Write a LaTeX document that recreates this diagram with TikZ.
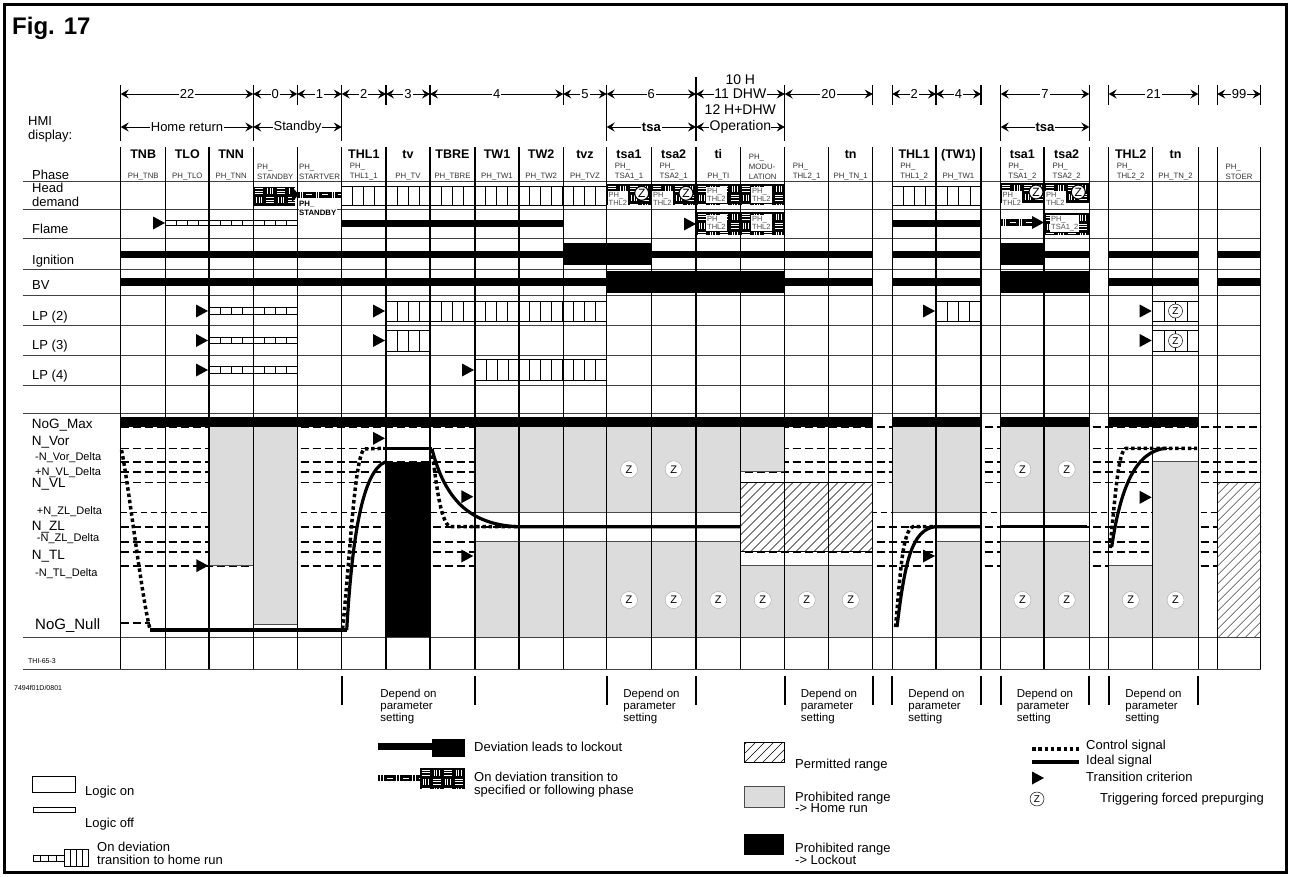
\documentclass[tikz,border=0pt]{standalone}
\usepackage{fontspec}
\setmainfont{Liberation Sans}
\usetikzlibrary{arrows.meta}
\definecolor{grayfill}{HTML}{DCDCDC}
\definecolor{lblgray}{HTML}{505050}
\newcommand\fs[1]{\fontsize{#1}{#1}\selectfont}
\newcommand\weave[4]{%
  \fill[black] (#1,#2) rectangle (#3,#4);
  \begin{scope}
    \clip (#1,#2) rectangle (#3,#4);
    \pgfmathtruncatemacro\wnx{ceil((#3-#1)/11)}
    \pgfmathtruncatemacro\wny{ceil((#4-#2)/9)}
    \foreach \wi in {1,...,\wnx}{
      \foreach \wj in {1,...,\wny}{
        \pgfmathsetmacro\wx{#1+(\wi-1)*11}
        \pgfmathsetmacro\wy{#2+(\wj-1)*9}
        \pgfmathtruncatemacro\wp{mod(\wi+\wj,2)}
        \ifnum\wp=0
          \draw[white,line width=0.6pt] (\wx+1.5,\wy+2) -- ++(8,0) (\wx+1.5,\wy+4.5) -- ++(8,0) (\wx+1.5,\wy+7) -- ++(8,0);
        \else
          \draw[white,line width=0.6pt] (\wx+3,\wy+1.5) -- ++(0,6) (\wx+5.5,\wy+1.5) -- ++(0,6) (\wx+8,\wy+1.5) -- ++(0,6);
        \fi
      }}
  \end{scope}}
\newcommand\thinweave[4]{%
  \fill[black] (#1,#2) rectangle (#3,#4);
  \begin{scope}
    \clip (#1,#2) rectangle (#3,#4);
    \pgfmathtruncatemacro\wnx{ceil((#3-#1)/8)}
    \foreach \wi in {1,...,\wnx}{
      \pgfmathsetmacro\wx{#1+(\wi-1)*8}
      \pgfmathtruncatemacro\wp{mod(\wi,2)}
      \ifnum\wp=0
        \draw[white,line width=0.6pt] (\wx+1,{(#2+#4)/2}) -- ++(6,0);
      \else
        \draw[white,line width=0.6pt] (\wx+2.5,#2) -- (\wx+2.5,#4) (\wx+5,#2) -- (\wx+5,#4);
      \fi}
  \end{scope}}
\newcommand\stripes[5]{%
  \draw[line width=0.8pt] (#1,#3) rectangle (#2,#4);
  \pgfmathtruncatemacro\sn{#5-1}
  \foreach \si in {1,...,\sn}{\draw[line width=0.8pt] ({#1+(#2-#1)*\si/#5},#3) -- ({#1+(#2-#1)*\si/#5},#4);}}
\newcommand\hatch[4]{%
  \begin{scope}
    \clip (#1,#2) rectangle (#3,#4);
    \foreach \hk in {0,...,40}{\draw[line width=0.5pt] ({#1-170+\hk*9},#4) -- ++(180,-180);}
  \end{scope}
  \draw[line width=0.6pt] (#1,#2) rectangle (#3,#4);}
\newcommand\tri[2]{\fill (#1,#2) -- ++(-12,-6.5) -- ++(0,13) -- cycle;}
\newcommand\zc[2]{\node[circle,fill=white,draw=gray!70,line width=0.4pt,minimum size=17pt,inner sep=0pt,font=\fs{11}] at (#1,#2) {Z};}
\newcommand\zh[2]{\node[circle,fill=white,draw=black,line width=1.1pt,minimum size=14pt,inner sep=0pt,font=\fs{12}] at (#1,#2) {Z};}
\newcommand\zl[2]{\node[circle,fill=white,draw=black,line width=0.5pt,minimum size=14pt,inner sep=0pt,font=\fs{10}] at (#1,#2) {Z};}
\newcommand\wlabel[3]{\node[fill=white,inner sep=1pt,anchor=north west,align=left,font=\fontsize{7.5}{8.5}\selectfont,text=lblgray] at (#1,#2) {#3};}
\newcommand\phs[2]{\node[anchor=south,align=left,inner sep=0pt,font=\fontsize{7.8}{10}\selectfont,text=black!80] at (#1,180) {#2};}
\newcommand\phb[2]{\node[anchor=base,inner sep=0pt,font=\bfseries\fs{12.5}] at (#1,158) {#2};}
\begin{document}
\begin{tikzpicture}[x=1pt,y=-1pt,
  dimarr/.style={{Stealth[length=8pt,width=9pt,inset=3pt]}-{Stealth[length=8pt,width=9pt,inset=3pt]},line width=0.8pt},
  dimlbl/.style={fill=white,inner sep=1pt,font=\fs{13}},
  dsh/.style={line width=1.6pt,dash pattern=on 8pt off 4pt},
  dshthin/.style={line width=0.8pt,dash pattern=on 6pt off 4pt},
  ctrl/.style={line width=3.5pt,dash pattern=on 3.5pt off 2.8pt},
  ideal/.style={line width=3.2pt},
  gblock/.style={fill=grayfill,draw=black!70,line width=0.5pt},
  lbl/.style={anchor=base west,inner sep=0pt,font=\fs{13}},
  lbls/.style={anchor=base west,inner sep=0pt,font=\fs{11}}]
\useasboundingbox (0,0) rectangle (1290,876);
\fill[white] (0,0) rectangle (1290,876);
\draw[line width=3pt] (4,4) rectangle (1286.5,872.5);
\node[anchor=base west,inner sep=0pt,font=\bfseries\fs{24}] (fig) at (12,34) {Fig. 17};

% ---------- dimension header ----------
\node[lbl] (hmi1) at (28,125) {HMI};
\node[lbl] (hmi2) at (28,139) {display:};
\foreach \x in {120.7,253.3,341.7,606.7,784.7,1000.7,1089.3} {\draw[line width=1.2pt] (\x,85) -- (\x,141);}
\draw[line width=1.2pt] (696,77) -- (696,141);
\foreach \x in {297.3,386,430,563.3,872.7,892.3,936,981,1108.7,1198.3,1217.3,1260.7} {\draw[line width=1.2pt] (\x,85) -- (\x,105);}
\draw[dimarr] (120.7,94) -- node[dimlbl]{22} (253.3,94);
\draw[dimarr] (253.3,94) -- node[dimlbl]{0} (297.3,94);
\draw[dimarr] (297.3,94) -- node[dimlbl]{1} (341.7,94);
\draw[dimarr] (341.7,94) -- node[dimlbl]{2} (386,94);
\draw[dimarr] (386,94) -- node[dimlbl]{3} (430,94);
\draw[dimarr] (430,94) -- node[dimlbl]{4} (563.3,94);
\draw[dimarr] (563.3,94) -- node[dimlbl]{5} (606.7,94);
\draw[dimarr] (606.7,94) -- node[dimlbl]{6} (696,94);
\draw[dimarr] (696,94) -- node[dimlbl,inner sep=0.3pt,font=\fs{14}]{11 DHW} (784.7,94);
\draw[dimarr] (784.7,94) -- node[dimlbl]{20} (872.7,94);
\draw[dimarr] (892.3,94) -- node[dimlbl]{2} (936,94);
\draw[dimarr] (936,94) -- node[dimlbl]{4} (981,94);
\draw[dimarr] (1000.7,94) -- node[dimlbl]{7} (1089.3,94);
\draw[dimarr] (1108.7,94) -- node[dimlbl]{21} (1198.3,94);
\draw[dimarr] (1217.3,94) -- node[dimlbl]{99} (1260.7,94);
\node[font=\fs{14},inner sep=0pt] (h10) at (740.3,80) {10 H};
\node[font=\fs{14},inner sep=0pt,fill=white] (h12) at (740.3,109.5) {12 H+DHW};
\draw[dimarr] (120.7,127) -- node[dimlbl,inner sep=0.5pt]{Home return} (253.3,127);
\draw[dimarr] (253.3,127) -- node[dimlbl,inner sep=0.5pt]{Standby} (341.7,127);
\draw[dimarr] (606.7,127) -- node[dimlbl,font=\bfseries\fs{13}]{tsa} (696,127);
\draw[dimarr] (696,127) -- node[dimlbl,inner sep=0.3pt,font=\fs{14}]{Operation} (784.7,127);
\draw[dimarr] (1000.7,127) -- node[dimlbl,font=\bfseries\fs{13}]{tsa} (1089.3,127);

% ---------- chart dashed levels ----------
\foreach \y in {426.7,448.3,461.7,471.7,482.3,526.7,541.7,551.7,565.7} {\draw[dsh] (120.7,\y) -- (1260.7,\y);}
\draw[dshthin] (120.7,512.7) -- (1260.7,512.7);
\draw[dsh] (120.7,623) -- (150,623);

% ---------- chart fills ----------
\draw[gblock] (209,426.7) rectangle (253.3,565.7);
\draw[gblock] (253.3,426.7) rectangle (297.3,624);
\draw[gblock] (475,426.7) rectangle (740.7,512.7);
\draw[gblock] (740.7,426.7) rectangle (784.7,471.7);
\draw[gblock] (475,541.7) rectangle (740.7,637.3);
\draw[gblock] (740.7,565.7) rectangle (872.7,637.3);
\draw[gblock] (892.3,426.7) rectangle (981,512.7);
\draw[gblock] (936,541.7) rectangle (981,637.3);
\draw[gblock] (1000.7,426.7) rectangle (1089.3,512.7);
\draw[gblock] (1000.7,541.7) rectangle (1089.3,637.3);
\draw[gblock] (1108.7,565.7) rectangle (1152.7,637.3);
\draw[gblock] (1152.7,461.7) rectangle (1198.3,637.3);
\fill[white] (740.7,482.3) rectangle (872.7,551.7);
\hatch{740.7}{482.3}{872.7}{551.7}
\fill[white] (1217.3,482.3) rectangle (1260.7,637.3);
\hatch{1217.3}{482.3}{1260.7}{637.3}
\fill[black] (386,461.7) rectangle (430,637.3);

% ---------- grid ----------
\foreach \y in {181,209.5,238,269,295.5,325.5,355,385,413,637.3,669.3} {\draw[line width=0.9pt,black!75] (22.7,\y) -- (1260.7,\y);}
\foreach \x in {120.7,165.7,209,253.3,297.3,341.7,386,430,475,519,563.3,606.7,651.3,696,740.7,784.7,828.7,872.7,892.3,936,981,1000.7,1044,1089.3,1108.7,1152.7,1198.3,1217.3,1260.7}
  {\draw[line width=1.2pt] (\x,147) -- (\x,669.3);}

% NoG_Max bar
\foreach \a/\b in {120.7/872.7,892.3/981,1000.7/1089.3,1108.7/1198.3} {\fill (\a,416.7) rectangle (\b,426.7);}

% ---------- phase labels ----------
\phb{143.2}{TNB}\phb{187.35}{TLO}\phb{231.15}{TNN}\phb{363.85}{THL1}\phb{408}{tv}\phb{452.5}{TBRE}
\phb{497}{TW1}\phb{541.15}{TW2}\phb{585}{tvz}\phb{629}{tsa1}\phb{673.65}{tsa2}\phb{718.35}{ti}\phb{850.7}{tn}
\phb{914.15}{THL1}\phb{958.5}{(TW1)}\phb{1022.35}{tsa1}\phb{1066.65}{tsa2}\phb{1130.7}{THL2}\phb{1175.5}{tn}
\phs{143.2}{PH\_TNB}\phs{187.35}{PH\_TLO}\phs{231.15}{PH\_TNN}\phs{275.3}{PH\_\\STANDBY}\phs{319.5}{PH\_\\STARTVER}
\phs{363.85}{PH\_\\THL1\_1}\phs{408}{PH\_TV}\phs{452.5}{PH\_TBRE}\phs{497}{PH\_TW1}\phs{541.15}{PH\_TW2}\phs{585}{PH\_TVZ}
\phs{629}{PH\_\\TSA1\_1}\phs{673.65}{PH\_\\TSA2\_1}\phs{718.35}{PH\_TI}\phs{762.7}{PH\_\\MODU-\\LATION}\phs{806.7}{PH\_\\THL2\_1}
\phs{850.7}{PH\_TN\_1}\phs{914.15}{PH\_\\THL1\_2}\phs{958.5}{PH\_TW1}\phs{1022.35}{PH\_\\TSA1\_2}\phs{1066.65}{PH\_\\TSA2\_2}
\phs{1130.7}{PH\_\\THL2\_2}\phs{1175.5}{PH\_TN\_2}\phs{1239}{PH\_\\STOER}

% ---------- row labels ----------
\node[lbl] (l1) at (32,179) {Phase};
\node[lbl] (l2) at (32,192.7) {Head};
\node[lbl] (l3) at (32,206.5) {demand};
\node[lbl] (l4) at (32,233) {Flame};
\node[lbl] (l5) at (32,264) {Ignition};
\node[lbl] (l6) at (32,289.5) {BV};
\node[lbl] (l7) at (32,320) {LP (2)};
\node[lbl] (l8) at (32,349.5) {LP (3)};
\node[lbl] (l9) at (32,379) {LP (4)};

% ---------- head demand ----------
\weave{253.3}{186.7}{295}{206}
\fill (292,187) -- (299,194.5) -- (292,202) -- cycle;
\thinweave{297.3}{191.5}{341.7}{197.5}
\node[fill=white,inner sep=0.5pt,anchor=north west,align=left,font=\bfseries\fontsize{7.8}{8.5}\selectfont] (psb) at (298.5,200.5) {PH\_\\STANDBY};
\stripes{341.7}{606.7}{186}{205}{24}
\weave{606.7}{184}{651.3}{205}\wlabel{607.5}{191}{PH\_\\THL2}\zh{641.7}{193.3}
\weave{651.3}{184}{696}{205}\wlabel{652}{191}{PH\_\\THL2}\zh{686}{193.3}
\weave{696}{184}{740.7}{205}\wlabel{706}{187}{PH\_\\THL2}
\weave{740.7}{184}{784.7}{205}\wlabel{751}{187}{PH\_\\THL2}
\stripes{892.3}{981}{186}{205}{8}
\weave{1000.7}{183}{1044}{203}\wlabel{1001.5}{191}{PH\_\\THL2}\zh{1036}{192}
\weave{1044}{183}{1089.3}{203}\wlabel{1045}{191}{PH\_\\THL2}\zh{1078.3}{192}

% ---------- flame ----------
\tri{165}{223}
\stripes{165.7}{297.3}{220}{225.3}{12}
\fill (341.7,220) rectangle (563.3,227.3);
\weave{696}{212}{784.7}{235}\wlabel{706}{215}{PH\_\\THL2}\wlabel{751}{215}{PH\_\\THL2}
\tri{696}{224}
\fill (892.3,220) rectangle (981,227.3);
\thinweave{1000.7}{219}{1033}{226}\tri{1044}{222.5}
\weave{1044}{213}{1089.3}{235}\wlabel{1050}{215}{PH\_\\TSA1\_2}

% ---------- ignition ----------
\foreach \a/\b in {120.7/872.7,892.3/981,1000.7/1089.3,1108.7/1198.3,1217.3/1260.7} {\fill (\a,251) rectangle (\b,257.7);}
\fill (563.3,243.3) rectangle (651.3,265);
\fill (1000.7,243.3) rectangle (1044,265);

% ---------- BV ----------
\foreach \a/\b in {120.7/872.7,892.3/981,1108.7/1198.3,1217.3/1260.7} {\fill (\a,278.3) rectangle (\b,285.7);}
\fill (606.7,271) rectangle (784.7,292.7);
\fill (1000.7,271) rectangle (1089.3,292.7);

% ---------- LP rows ----------
\tri{208}{311}\stripes{209}{297.3}{307.7}{314}{8}
\tri{208}{340.5}\stripes{209}{297.3}{337.2}{343.5}{8}
\tri{208}{370}\stripes{209}{297.3}{366.7}{373}{8}
\tri{385}{311}\stripes{386}{606.7}{301}{321.7}{20}
\tri{385}{340.5}\stripes{386}{430}{330.5}{351}{4}
\tri{474}{370}\stripes{475}{606.7}{359.5}{380}{12}
\tri{935}{311}\stripes{936}{981}{301}{321.7}{4}
\tri{1151.7}{311}\stripes{1152.7}{1198.3}{301}{321.7}{4}\zl{1175.5}{311}
\tri{1151.7}{340.5}\stripes{1152.7}{1198.3}{330.5}{351}{4}\zl{1175.5}{340.7}

% ---------- chart curves ----------
\draw[ctrl] (121.5,450) .. controls (128,480) and (142,600) .. (150,629);
\draw[ideal] (150,630) -- (346.7,630);
\draw[ctrl] (342.5,629) .. controls (350,560) and (354,460) .. (364,449) -- (384,448.3);
\draw[ideal] (346.7,630) .. controls (352,540) and (362,470) .. (386,461.7);
\draw[ideal] (383,448.3) -- (432,448.3);
\draw[ctrl] (431.7,449) .. controls (436,480) and (440,522) .. (450,526.7) -- (516.7,526.7);
\draw[ideal] (432,449) .. controls (445,500) and (470,524) .. (516.7,526.7) -- (740.7,526.7);
\draw[ctrl] (895.5,627) .. controls (900,580) and (902,530) .. (913,526.7) -- (935,526.7);
\draw[ideal] (897,627) .. controls (905,560) and (912,530) .. (935,526.7) -- (981,526.7);
\draw[ideal] (1000.7,526.7) -- (1087,526.7);
\draw[ctrl] (1110,548) .. controls (1115,500) and (1118,450) .. (1126,448.3) -- (1197,448.3);
\draw[ideal] (1111.7,547) .. controls (1120,490) and (1135,450) .. (1166.7,448.3);
\tri{208.3}{565.7}\tri{385}{438.3}\tri{473.3}{496.7}\tri{473.3}{556}\tri{935}{556}\tri{1151.7}{497.3}
\zc{629}{469.3}\zc{673.65}{469.3}\zc{1022.35}{469.3}\zc{1066.65}{469.3}
\foreach \x in {629,673.65,718.35,762.7,806.7,850.7,1022.35,1066.65,1130.7,1175.5} {\zc{\x}{600}}

% ---------- chart labels ----------
\node[lbl,font=\fs{13.5}] (n1) at (31.7,428) {NoG\_Max};
\node[lbl,font=\fs{13.5}] (n2) at (31.7,445) {N\_Vor};
\node[lbls] (n3) at (35,460) {-N\_Vor\_Delta};
\node[lbls] (n4) at (35,475) {+N\_VL\_Delta};
\node[lbl,font=\fs{13.5}] (n5) at (31.7,487) {N\_VL};
\node[lbls] (n6) at (36.7,514) {+N\_ZL\_Delta};
\node[lbl,font=\fs{13.5}] (n7) at (31.7,530) {N\_ZL};
\node[lbls] (n8) at (36.7,541) {-N\_ZL\_Delta};
\node[lbl,font=\fs{13.5}] (n9) at (31.7,559) {N\_TL};
\node[lbls] (n10) at (35,576) {-N\_TL\_Delta};
\node[lbl,font=\fs{15}] (n11) at (35,629) {NoG\_Null};
\node[anchor=base west,inner sep=0pt,font=\fs{7}] (thi) at (28,663) {THI-65-3};
\node[anchor=base west,inner sep=0pt,font=\fs{7}] (code) at (14,690) {7494f01D/0801};

% ---------- depend on parameter setting ----------
\foreach \x in {342,475,607,696,785,873,892,981,1001,1089,1109,1198} {\draw[line width=1.2pt] (\x,676) -- (\x,705);}
\foreach \x in {408.5,651.5,829,936.5,1045,1153.5}
  {\node[anchor=north,align=left,inner sep=0pt,font=\fontsize{11.5}{12}\selectfont] at (\x,689) {Depend on\\parameter\\setting};}

% ---------- legend ----------
\draw[line width=1pt] (32,776) rectangle (75,792);
\node[lbl] (lg1) at (85,795) {Logic on};
\draw[line width=1pt] (33,807) rectangle (75,812);
\node[lbl] (lg2) at (85,827) {Logic off};
\stripes{33}{64}{855}{861}{4}
\stripes{64}{88}{849}{866}{4}
\node[lbl] (lg3) at (97,851) {On deviation};
\node[lbl] (lg4) at (97,864) {transition to home run};
\fill (378,743) rectangle (432,750);
\fill (432,739) rectangle (465,757);
\node[lbl] (lg5) at (474,751) {Deviation leads to lockout};
\thinweave{378}{775}{420}{781}
\weave{420}{768}{465}{789}
\node[lbl] (lg6) at (474,781) {On deviation transition to};
\node[lbl] (lg7) at (474,794) {specified or following phase};
\fill[white] (744,742) rectangle (784,762);
\hatch{744}{742}{784}{762}
\node[lbl] (lg8) at (795,768) {Permitted range};
\draw[gblock,line width=0.8pt] (744,786) rectangle (784,807);
\node[lbl] (lg9) at (795,801) {Prohibited range};
\node[lbl] (lg10) at (795,812) {-> Home run};
\fill (744,834) rectangle (784,855);
\node[lbl] (lg11) at (795,852) {Prohibited range};
\node[lbl] (lg12) at (795,864) {-> Lockout};
\draw[ctrl] (1032,749) -- (1079,749);
\node[lbl] (lg13) at (1086,749) {Control signal};
\draw[ideal] (1032,762) -- (1079,762);
\node[lbl] (lg14) at (1086,764) {Ideal signal};
\tri{1044}{778}
\node[lbl] (lg15) at (1086,781) {Transition criterion};
\node[circle,draw=black,line width=0.5pt,minimum size=14pt,inner sep=0pt,font=\fs{10}] (lgz) at (1037,799) {Z};
\node[lbl] (lg16) at (1100,802) {Triggering forced prepurging};
\end{tikzpicture}
\end{document}
